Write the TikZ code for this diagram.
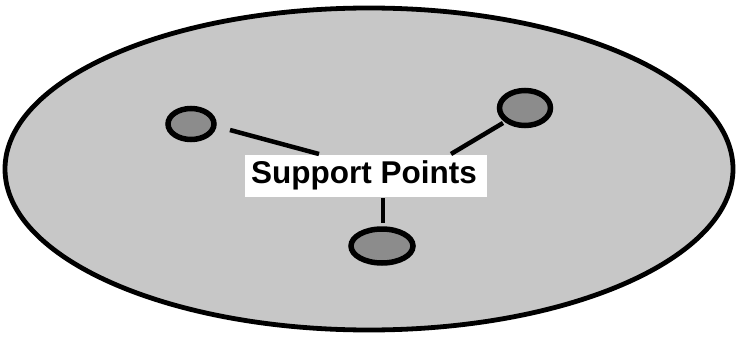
\documentclass[tikz,border=0pt]{standalone}
\usepackage{fontspec}
\setmainfont{Liberation Sans}
\begin{document}
\begin{tikzpicture}[x=1pt,y=-1pt,
  outer/.style={draw=black,line width=4.8pt,fill=black!22},
  spot/.style={draw=black,line width=5.5pt,fill=black!45},
  lead/.style={draw=black,line width=4.5pt},
  lbl/.style={fill=white,minimum width=242pt,minimum height=42pt,inner sep=0pt}]
\useasboundingbox (0,0) rectangle (739,337);
\draw[outer] (369,169) ellipse [x radius=364, y radius=161];
\draw[spot] (191,124) ellipse [x radius=23, y radius=15.5];
\draw[spot] (525,108) ellipse [x radius=25.5, y radius=17.5];
\draw[spot] (382,246) ellipse [x radius=31, y radius=17];
\node[lbl] (t) at (366,176) {};
\node[font=\bfseries\fontsize{31.5}{36}\selectfont,inner sep=0pt,anchor=base] (tx) at (364,183) {Support Points};
\coordinate (l1) at (230,130);
\coordinate (l2) at (319,154);
\coordinate (r1) at (503,123);
\coordinate (r2) at (451,154);
\coordinate (b1) at (383,198);
\coordinate (b2) at (383,223);
\draw[lead] (l1) -- (l2);
\draw[lead] (r1) -- (r2);
\draw[lead] (b1) -- (b2);
\end{tikzpicture}
\end{document}
